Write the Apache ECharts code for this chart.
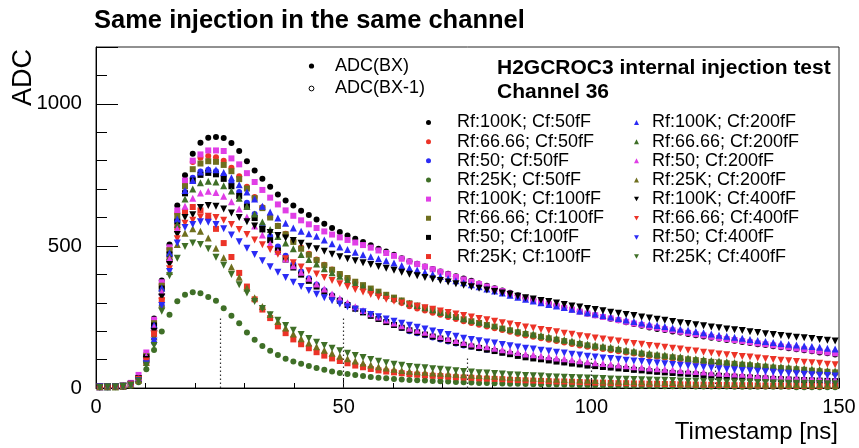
<!DOCTYPE html>
<html>
<head>
<meta charset="utf-8">
<script src="https://cdn.jsdelivr.net/npm/echarts@6/dist/echarts.min.js"></script>
<style>
html,body{margin:0;padding:0;background:#fff;}
#chart{width:859px;height:448px;}
</style>
</head>
<body>
<div id="chart"></div>
<script>
// ---- data ----
const timestamps = [0.78,2.34,3.91,5.47,7.03,8.59,10.16,11.72,13.28,14.84,16.41,17.97,19.53,21.09,22.66,24.22,25.78,27.34,28.91,30.47,32.03,33.59,35.16,36.72,38.28,39.84,41.41,42.97,44.53,46.09,47.66,49.22,50.78,52.34,53.91,55.47,57.03,58.59,60.16,61.72,63.28,64.84,66.41,67.97,69.53,71.09,72.66,74.22,75.78,77.34,78.91,80.47,82.03,83.59,85.16,86.72,88.28,89.84,91.41,92.97,94.53,96.09,97.66,99.22,100.78,102.34,103.91,105.47,107.03,108.59,110.16,111.72,113.28,114.84,116.41,117.97,119.53,121.09,122.66,124.22,125.78,127.34,128.91,130.47,132.03,133.59,135.16,136.72,138.28,139.84,141.41,142.97,144.53,146.09,147.66,149.22];
const xTickLabels = [0, 50, 100, 150];
const yTickLabels = [0, 500, 1000];
const bxBoundaries = [25, 50, 75, 100, 125];
const boundaryTops = [250, 250, 105, 105, 100];

const rf100k_cf50 = [4,4,5,7,15,40,120,245,378,505,642,749, 824,863,881,883,880,862,834,798,765, 736,708,681,660,642,624,609,593,578,563,549,537,525,514,502,490,480,469,457,446, 437,428,419,410,402,393,385, 377,368,360,351,343,335,326,318, 311,304,297,290,283,276,269,262, 256,250,244,238,231,225,219,213, 208,204,199,195,190,186,181,177, 173,169,166,162,158,154,151,147, 143,140,136,133,129,125,122,118];
const rf6666_cf50 = [4,4,4,7,14,36,115,232,365,490,615,720, 795,810,816,812,800,775,745,708,672, 636,602,571,543,517,494,472,452,434,417,401,386,372,358,345,333,321,310,299,288, 280,273,265,258,250,243,235, 229,223,216,210,204,198,191,185, 180,175,170,165,160,155,150,145, 141,137,133,129,125,121,117,113, 110,107,104,101,97,94,91,88, 86,83,81,78,76,73,71,68, 66,64,62,60,58,56,54,52];
const rf50_cf50 = [4,4,4,6,12,30,90,160,290,450,590,690, 740,762,768,763,748,722,690,652,612, 572,534,498,465,436,410,386,364,344,326,310,295,281,268,256,244,233,222,211,200, 193,186,178,171,164,157,150, 145,140,135,130,125,120,115,110, 106,102,99,95,91,87,84,80, 78,75,73,70,68,65,63,60, 58,56,54,52,50,48,46,44, 43,41,40,38,37,35,34,32, 31,30,29,27,26,25,24,23];
const rf25k_cf50 = [3,3,4,5,8,20,66,134,199,258,305,328, 337,333,320,307,281,254,228,195,170, 148,131,116,103,93,85,77,70,64,58,53,49,46,42,39,36,34,32,30,28, 27,26,25,24,23,21,20, 19,18,18,17,16,15,15,14, 13,13,12,12,11,11,10,10, 10,9,9,8,8,8,7,7, 7,6,6,6,6,5,5,5, 5,5,4,4,4,4,4,4, 4,4,3,3,3,3,3,3];
const rf100k_cf100 = [4,5,5,8,18,46,125,240,372,495,625,730, 800,822,836,836,834,808,787,756,725, 697,670,646,625,606,590,576,563,551,540,530,521,512,503,494,484,475,465,455,445, 436,427,418,409,400,391,382, 374,366,357,349,341,332,324,316, 309,303,296,289,282,276,269,262, 256,250,245,239,233,227,222,216, 212,207,203,198,194,189,185,180, 176,172,169,165,161,157,154,150, 146,143,139,136,132,129,125,122];
const rf6666_cf100 = [4,4,5,7,14,35,112,228,360,485,605,710, 770,790,798,796,785,763,735,702,668, 633,600,570,541,514,490,469,450,432,416,401,387,374,362,350,339,328,318,308,298, 290,282,274,266,258,250,242, 235,229,222,216,209,203,196,190, 185,180,175,170,165,160,155,150, 146,142,138,134,129,125,121,117, 114,111,108,105,101,98,95,92, 90,87,85,82,80,77,75,72, 70,68,66,64,61,59,57,55];
const rf50_cf100 = [4,4,5,7,13,33,108,220,350,470,585,685, 730,750,757,752,736,710,676,638,598, 558,520,484,452,424,399,377,357,339,322,307,292,279,266,254,243,232,222,212,203, 196,188,181,174,167,159,152, 146,141,135,130,124,119,113,108, 104,101,97,93,90,86,83,79, 77,74,72,69,67,64,62,59, 57,55,53,51,50,48,46,44, 43,41,40,38,37,35,34,32, 31,30,29,28,27,26,25,24];
const rf25k_cf100 = [4,4,4,6,12,28,92,190,310,450,565,620, 637,625,600,560,510,461,405,357,312, 276,246,217,193,171,154,140,126,114,104,95,87,79,73,67,62,58,55,52,49, 47,45,43,42,40,38,37, 36,34,33,32,31,29,28,27, 26,25,24,23,23,22,21,20, 19,19,18,17,17,16,16,15, 15,14,14,13,13,12,12,11, 11,11,10,10,10,9,9,9, 9,8,8,8,8,7,7,7];
const rf100k_cf200 = [4,4,5,7,14,34,110,222,352,475,595,695, 730,760,770,768,758,740,715,690,665, 640,619,598,580,563,552,543,534,521,508,496,487,478,469,462,455,448,440,431,422, 415,407,400,392,385,377,370, 363,356,348,341,334,326,319,312, 306,300,294,289,283,277,271,265, 260,255,250,245,239,234,229,224, 220,216,211,207,203,199,194,190, 186,182,179,175,171,167,164,160, 157,154,151,148,146,143,140,137];
const rf6666_cf200 = [4,4,4,7,13,32,105,212,340,462,575,665, 700,722,728,725,712,693,668,640,612, 584,558,533,510,490,470,452,436,420,406,393,380,368,357,346,336,326,316,307,298, 290,282,275,267,259,252,244, 238,232,226,220,213,207,201,195, 190,185,180,175,170,165,160,155, 151,147,143,139,134,130,126,122, 119,116,113,110,106,103,100,97, 95,92,90,87,85,82,80,77, 75,73,71,69,67,65,62,60];
const rf50_cf200 = [4,5,5,8,15,38,112,215,338,455,560,640, 668,686,692,688,675,655,630,602,570, 538,508,480,454,430,407,386,366,348,331,315,300,286,273,261,250,239,229,219,210, 203,196,189,181,174,167,160, 155,150,145,140,135,130,125,120, 117,113,110,106,103,99,96,92, 89,86,84,81,78,75,73,70, 68,66,64,62,60,58,56,54, 52,51,49,48,46,44,43,41, 40,39,37,36,35,34,32,31];
const rf25k_cf200 = [4,4,4,6,11,27,90,180,295,410,505,545, 560,552,528,492,458,426,390,352,318, 287,259,234,211,190,173,158,145,133,122,112,103,95,88,81,75,70,66,62,59, 57,55,53,52,50,48,47, 45,44,42,41,39,38,36,35, 34,33,32,31,30,29,28,27, 26,25,25,24,23,22,22,21, 20,20,19,18,18,17,17,16, 16,15,15,15,14,14,13,13, 13,12,12,12,11,11,10,10];
const rf100k_cf400 = [4,4,4,6,13,32,100,200,320,435,540,600, 610,635,642,640,630,616,600,585,570, 558,547,537,528,519,509,499,490,481,471,462,455,448,441,435,428,421,414,407,400, 395,389,384,378,373,367,362, 356,351,345,340,334,329,323,318, 313,308,304,299,294,289,285,280, 276,272,267,263,259,255,250,246, 242,238,234,230,227,223,219,215, 212,208,205,202,198,195,191,188, 185,182,179,177,174,171,168,165];
const rf6666_cf400 = [4,4,4,6,12,30,95,190,305,420,525,580, 590,602,604,600,590,575,558,540,521, 504,487,471,455,441,426,413,401,389,378,367,357,347,338,329,320,312,305,299,293, 288,282,277,271,266,260,255, 250,245,240,235,230,225,220,215, 211,206,202,198,193,189,184,180, 176,172,169,165,161,157,154,150, 147,143,140,137,133,130,126,123, 120,117,114,111,109,106,103,100, 98,96,93,91,89,87,84,82];
const rf50_cf400 = [4,4,4,6,10,26,85,165,290,410,510,565, 575,585,583,575,560,538,515,492,470, 448,427,407,389,372,357,343,330,318,307,296,286,277,268,259,251,243,235,228,221, 214,208,201,195,188,182,175, 171,166,162,158,153,149,144,140, 137,133,130,126,123,119,116,112, 109,106,104,101,98,95,93,90, 88,85,83,80,78,75,73,70, 68,66,64,62,61,59,57,55, 53,52,50,48,47,45,44,42];
const rf25k_cf400 = [3,4,4,6,10,25,80,150,270,395,457,498, 510,505,490,460,432,399,363,334,304, 280,258,238,220,203,188,174,161,150,140,131,122,114,107,100,94,89,84,80,76, 73,71,68,66,63,61,58, 56,54,53,51,49,47,46,44, 43,42,40,39,38,37,36,35, 34,33,32,31,31,30,29,28, 27,27,26,25,24,24,23,22, 22,21,21,20,20,19,19,18, 18,17,17,17,16,16,15,15];

// ---- styling ----
const FONT = 'Liberation Sans, Arial, Helvetica, sans-serif';
const C = {black:'#000000', red:'#ec3327', blue:'#2b2bf5', green:'#3f6f27', magenta:'#e03ee6', olive:'#6f6f1e'};
const DOWN = 'path://M0,0L10,0L5,9Z';
const seriesDefs = [
  ['Rf:100K; Cf:50fF', rf100k_cf50, 'circle', C.black, 6],
  ['Rf:66.66; Cf:50fF', rf6666_cf50, 'circle', C.red, 6],
  ['Rf:50; Cf:50fF', rf50_cf50, 'circle', C.blue, 6],
  ['Rf:25K; Cf:50fF', rf25k_cf50, 'circle', C.green, 6],
  ['Rf:100K; Cf:100fF', rf100k_cf100, 'rect', C.magenta, 6],
  ['Rf:66.66; Cf:100fF', rf6666_cf100, 'rect', C.olive, 6],
  ['Rf:50; Cf:100fF', rf50_cf100, 'rect', C.black, 6],
  ['Rf:25K; Cf:100fF', rf25k_cf100, 'rect', C.red, 6],
  ['Rf:100K; Cf:200fF', rf100k_cf200, 'triangle', C.blue, 7],
  ['Rf:66.66; Cf:200fF', rf6666_cf200, 'triangle', C.green, 7],
  ['Rf:50; Cf:200fF', rf50_cf200, 'triangle', C.magenta, 7],
  ['Rf:25K; Cf:200fF', rf25k_cf200, 'triangle', C.olive, 7],
  ['Rf:100K; Cf:400fF', rf100k_cf400, DOWN, C.black, 7],
  ['Rf:66.66; Cf:400fF', rf6666_cf400, DOWN, C.red, 7],
  ['Rf:50; Cf:400fF', rf50_cf400, DOWN, C.blue, 7],
  ['Rf:25K; Cf:400fF', rf25k_cf400, DOWN, C.green, 7]
];

const series = [{
  type: 'scatter', name: 'bx', data: [], silent: true, z: 1,
  markLine: {
    silent: true, symbol: 'none', animation: false,
    label: {show: false},
    lineStyle: {type: [1.5, 2.5], color: '#333', width: 1.2},
    data: bxBoundaries.map((b, k) => [{coord: [b, 0]}, {coord: [b, boundaryTops[k]]}])
  }
}].concat(seriesDefs.map((d, k) => ({
  type: 'scatter', name: d[0], symbol: d[2], symbolSize: d[4], z: 2 + k,
  itemStyle: {color: d[3], opacity: 1},
  emphasis: {disabled: true},
  data: d[1].map((v, i) => [timestamps[i], v])
})));

const legendCommon = {
  orient: 'vertical', padding: 0, itemGap: 0.15, itemWidth: 5, itemHeight: 5,
  selectedMode: false, top: 113,
  textStyle: {fontFamily: FONT, fontSize: 18, color: '#000', lineHeight: 19}
};

const chart = echarts.init(document.getElementById('chart'), null, {renderer: 'canvas'});
chart.setOption({
  animation: false,
  backgroundColor: '#fff',
  grid: {left: 96, right: 20, top: 47, bottom: 60, show: true, borderColor: '#222', borderWidth: 1},
  xAxis: {
    type: 'value', min: 0, max: 150, interval: 50,
    axisLine: {show: true, onZero: false, lineStyle: {color: '#000', width: 1}},
    axisTick: {show: true, inside: true, length: 10, lineStyle: {color: '#000'}},
    minorTick: {show: true, splitNumber: 5, length: 5, lineStyle: {color: '#000'}},
    splitLine: {show: false},
    axisLabel: {fontFamily: FONT, fontSize: 20, color: '#000', margin: 9,
      formatter: v => xTickLabels.indexOf(v) >= 0 ? String(v) : ''}
  },
  yAxis: {
    type: 'value', min: 0, max: 1200, interval: 500,
    axisLine: {show: true, onZero: false, lineStyle: {color: '#000', width: 1}},
    axisTick: {show: true, inside: true, length: 22, lineStyle: {color: '#000'}},
    minorTick: {show: true, splitNumber: 5, length: 11, lineStyle: {color: '#000'}},
    splitLine: {show: false},
    axisLabel: {fontFamily: FONT, fontSize: 20.5, color: '#000', margin: 14,
      formatter: v => yTickLabels.indexOf(v) >= 0 ? String(v) : ''}
  },
  legend: [
    Object.assign({}, legendCommon, {left: 426, data: seriesDefs.slice(0, 8).map(d => d[0]),
      textStyle: Object.assign({}, legendCommon.textStyle, {padding: [0, 0, 0, 21]})}),
    Object.assign({}, legendCommon, {left: 634, data: seriesDefs.slice(8).map(d => d[0]),
      textStyle: Object.assign({}, legendCommon.textStyle, {padding: [0, 0, 0, 8]})})
  ],
  graphic: [
    {type: 'text', left: 94, top: 8, style: {text: 'Same injection in the same channel', font: 'bold 25.5px ' + FONT, fill: '#000'}},
    {type: 'text', x: 838, y: 432, style: {text: 'Timestamp [ns]', font: '24px ' + FONT, fill: '#000', align: 'right', verticalAlign: 'middle'}},
    {type: 'text', x: 24, y: 49, rotation: Math.PI / 2, style: {text: 'ADC', font: '27px ' + FONT, fill: '#000', align: 'right', verticalAlign: 'middle'}},
    {type: 'circle', shape: {cx: 311.5, cy: 66, r: 2.6}, style: {fill: '#000'}},
    {type: 'circle', shape: {cx: 311.5, cy: 88.5, r: 2.4}, style: {fill: '#fff', stroke: '#000', lineWidth: 1}},
    {type: 'text', x: 335, y: 66, style: {text: 'ADC(BX)', font: '18px ' + FONT, fill: '#000', verticalAlign: 'middle'}},
    {type: 'text', x: 335, y: 88, style: {text: 'ADC(BX-1)', font: '18px ' + FONT, fill: '#000', verticalAlign: 'middle'}},
    {type: 'text', x: 497, y: 68, style: {text: 'H2GCROC3 internal injection test', font: 'bold 21px ' + FONT, fill: '#000', verticalAlign: 'middle'}},
    {type: 'text', x: 497, y: 92, style: {text: 'Channel 36', font: 'bold 21px ' + FONT, fill: '#000', verticalAlign: 'middle'}}
  ],
  series: series
});
</script>
</body>
</html>
